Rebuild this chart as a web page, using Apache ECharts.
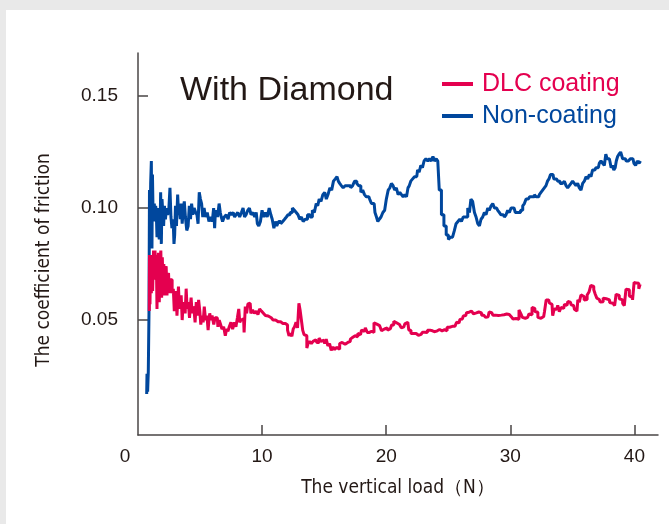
<!DOCTYPE html>
<html>
<head>
<meta charset="utf-8">
<title>Coefficient of friction vs vertical load</title>
<script src="https://cdn.jsdelivr.net/npm/echarts@6/dist/echarts.min.js"></script>
<style>
  html, body { margin: 0; padding: 0; background: #e9e9e9; }
  #panel { position: absolute; left: 6px; top: 10px; width: 663px; height: 514px; background: #ffffff; }
</style>
</head>
<body>
<div id="panel"></div>
<script>
// Friction traces: [vertical load (N), coefficient of friction]
const nonCoating = [
  [0.70,0.0170],[0.75,0.0260],[0.80,0.0180],[0.86,0.0270],
  [0.91,0.0530],[0.94,0.1080],[0.99,0.0830],[1.05,0.1110],
  [1.10,0.1210],[1.15,0.0820],[1.18,0.1150],
  [1.23,0.1010],[1.29,0.0950],[1.34,0.1020],
  [1.40,0.0940],[1.45,0.1010],
  [1.50,0.0980],[1.56,0.0870],[1.61,0.1000],
  [1.69,0.0890],[1.74,0.0860],[1.80,0.0890],
  [1.85,0.1070],[1.91,0.0840],[1.96,0.1040],
  [2.04,0.0980],[2.09,0.0920],
  [2.17,0.1010],[2.25,0.0950],[2.33,0.1000],
  [2.44,0.0970],[2.52,0.0990],
  [2.63,0.1090],[2.68,0.0960],
  [2.79,0.0910],[2.87,0.0950],
  [2.93,0.0840],[2.98,0.0880],
  [3.06,0.1010],[3.14,0.0920],
  [3.25,0.1060],[3.30,0.0970],
  [3.38,0.1000],[3.44,0.0950],
  [3.52,0.1020],[3.60,0.0930],[3.68,0.0990],
  [3.78,0.1030],[3.86,0.0960],
  [4.00,0.0900],[4.08,0.0920],
  [4.19,0.1010],[4.27,0.0950],
  [4.37,0.1020],[4.46,0.0970],
  [4.59,0.1000],[4.70,0.0980],
  [4.80,0.0970],[4.88,0.0930],
  [4.99,0.1070],[5.07,0.1040],
  [5.18,0.1020],[5.26,0.0960],
  [5.39,0.1000],[5.50,0.0960],
  [5.66,0.0980],[5.77,0.0940],
  [5.93,0.0960],[6.04,0.0940],
  [6.15,0.1000],[6.20,0.0910],[6.25,0.0970],
  [6.36,0.0990],[6.47,0.0960],
  [6.60,0.1020],[6.66,0.0980],
  [6.76,0.0960],[6.87,0.0940],
  [7.03,0.0960],[7.19,0.0970],[7.33,0.0950],
  [7.43,0.0980],[7.60,0.0970],[7.73,0.0980],
  [7.84,0.0960],[7.97,0.0970],
  [8.11,0.0980],[8.27,0.0960],[8.40,0.0980],
  [8.53,0.1000],[8.64,0.0960],
  [8.78,0.0970],[8.91,0.0990],
  [9.04,0.1000],[9.18,0.0970],
  [9.34,0.0980],[9.47,0.0960],
  [9.58,0.0980],[9.66,0.0930],
  [9.80,0.0920],[9.93,0.0940],
  [10.06,0.0990],[10.20,0.0960],
  [10.33,0.0980],[10.49,0.0960],
  [10.65,0.1000],[10.76,0.0970],
  [10.87,0.0950],[11.03,0.0910],[11.11,0.0940],
  [11.25,0.0920],[11.41,0.0940],
  [11.59,0.0930],[11.73,0.0940],
  [11.89,0.0950],[12.02,0.0960],
  [12.16,0.0970],[12.35,0.0980],
  [12.53,0.1000],[12.67,0.0990],
  [12.83,0.0980],[12.96,0.0970],
  [13.10,0.0950],[13.23,0.0960],
  [13.39,0.0940],[13.55,0.0950],
  [13.77,0.0970],[13.96,0.0960],
  [14.14,0.0990],[14.28,0.0980],
  [14.44,0.1020],[14.52,0.1010],
  [14.68,0.1040],[14.81,0.1030],
  [14.98,0.1060],[15.11,0.1070],
  [15.24,0.1040],[15.38,0.1060],
  [15.54,0.1090],[15.67,0.1080],
  [15.83,0.1120],[15.97,0.1130],
  [16.10,0.1140],[16.18,0.1120],
  [16.32,0.1110],[16.45,0.1100],
  [16.61,0.1090],[16.77,0.1100],
  [17.04,0.1100],[17.23,0.1090],
  [17.36,0.1100],[17.55,0.1120],
  [17.71,0.1110],[17.87,0.1100],
  [18.04,0.1070],[18.17,0.1080],
  [18.33,0.1060],[18.46,0.1050],
  [18.60,0.1050],[18.73,0.1040],
  [18.89,0.1020],[19.03,0.1020],
  [19.16,0.0980],[19.27,0.0960],
  [19.38,0.0940],[19.51,0.0950],
  [19.65,0.0960],[19.81,0.0980],
  [19.94,0.0990],[20.08,0.1040],
  [20.24,0.1080],[20.34,0.1090],
  [20.50,0.1110],[20.61,0.1100],
  [20.75,0.1080],[20.88,0.1090],
  [21.04,0.1060],[21.15,0.1070],
  [21.31,0.1060],[21.42,0.1050],
  [21.58,0.1060],[21.69,0.1050],
  [21.82,0.1090],[21.90,0.1100],
  [22.06,0.1120],[22.20,0.1130],
  [22.36,0.1140],[22.46,0.1140],
  [22.60,0.1170],[22.71,0.1160],
  [22.87,0.1190],[22.97,0.1180],
  [23.13,0.1210],[23.27,0.1220],
  [23.43,0.1210],[23.56,0.1220],
  [23.70,0.1210],[23.83,0.1230],
  [23.97,0.1210],[24.10,0.1220],
  [24.21,0.1210],
  [24.34,0.1080],[24.56,0.0970],[24.74,0.0920],
  [24.93,0.0880],[25.09,0.0860],[25.25,0.0870],
  [25.44,0.0870],[25.55,0.0900],
  [25.71,0.0930],[25.85,0.0940],
  [26.01,0.0950],[26.11,0.0940],
  [26.30,0.0960],[26.49,0.0960],
  [26.65,0.1000],[26.76,0.0980],
  [26.89,0.1040],[27.03,0.1030],
  [27.19,0.0980],[27.29,0.0960],
  [27.46,0.0930],[27.56,0.0920],
  [27.72,0.0950],[27.83,0.0960],
  [27.99,0.0980],[28.10,0.0970],
  [28.26,0.1000],[28.37,0.0990],
  [28.53,0.1010],[28.64,0.1020],
  [28.80,0.1000],[28.90,0.1000],
  [29.07,0.0990],[29.17,0.0980],
  [29.33,0.0970],[29.44,0.0970],
  [29.60,0.0960],[29.71,0.0970],
  [29.87,0.0990],[29.98,0.0980],
  [30.14,0.1000],[30.30,0.1000],
  [30.51,0.0980],[30.73,0.0980],[30.92,0.0990],
  [31.08,0.1010],[31.19,0.1020],
  [31.35,0.1040],[31.45,0.1040],
  [31.67,0.1050],[31.86,0.1050],
  [32.02,0.1060],[32.13,0.1050],
  [32.29,0.1050],[32.39,0.1060],
  [32.55,0.1070],[32.66,0.1080],
  [32.82,0.1090],[32.93,0.1100],
  [33.06,0.1120],[33.17,0.1130],
  [33.31,0.1150],[33.44,0.1150],
  [33.57,0.1130],[33.71,0.1130],
  [33.95,0.1120],[34.08,0.1110],
  [34.30,0.1110],[34.41,0.1120],
  [34.57,0.1100],[34.67,0.1090],
  [34.84,0.1100],[34.94,0.1110],
  [35.10,0.1120],[35.21,0.1110],
  [35.37,0.1100],[35.48,0.1110],
  [35.64,0.1090],[35.75,0.1080],
  [35.91,0.1110],[36.02,0.1120],
  [36.18,0.1140],[36.29,0.1130],
  [36.45,0.1150],[36.55,0.1140],
  [36.71,0.1170],[36.82,0.1170],
  [36.98,0.1180],[37.09,0.1180],
  [37.25,0.1200],[37.36,0.1210],
  [37.52,0.1200],[37.63,0.1190],
  [37.76,0.1240],[37.84,0.1220],
  [37.98,0.1220],[38.06,0.1210],
  [38.19,0.1180],[38.27,0.1190],
  [38.41,0.1170],[38.49,0.1180],
  [38.59,0.1210],[38.70,0.1230],
  [38.81,0.1240],[38.97,0.1250],
  [39.13,0.1220],[39.26,0.1220],
  [39.43,0.1210],[39.59,0.1210],
  [39.75,0.1220],[39.88,0.1220],
  [40.04,0.1200],[40.15,0.1190],
  [40.31,0.1210],[40.45,0.1200],[40.53,0.1210]
];

const dlcCoating = [
  [0.91,0.0540],[0.94,0.0790],[0.99,0.0570],[1.05,0.0790],
  [1.10,0.0620],[1.15,0.0790],[1.21,0.0630],
  [1.29,0.0810],[1.34,0.0680],[1.40,0.0810],[1.45,0.0700],
  [1.50,0.0790],[1.56,0.0550],[1.61,0.0750],
  [1.69,0.0800],[1.74,0.0580],[1.80,0.0760],
  [1.88,0.0810],[1.93,0.0600],[1.99,0.0780],[2.04,0.0650],
  [2.12,0.0750],[2.17,0.0610],[2.23,0.0730],
  [2.31,0.0740],[2.36,0.0610],[2.42,0.0700],
  [2.50,0.0710],[2.55,0.0620],[2.60,0.0680],
  [2.71,0.0680],[2.79,0.0620],
  [2.90,0.0640],[2.95,0.0540],[3.03,0.0600],
  [3.11,0.0630],[3.17,0.0520],[3.22,0.0580],
  [3.30,0.0650],[3.38,0.0550],[3.44,0.0600],
  [3.52,0.0610],[3.60,0.0500],[3.65,0.0560],
  [3.76,0.0580],[3.84,0.0530],
  [3.92,0.0640],[4.00,0.0550],
  [4.11,0.0580],[4.19,0.0510],[4.24,0.0560],
  [4.32,0.0600],[4.40,0.0530],[4.46,0.0560],
  [4.56,0.0550],[4.64,0.0490],
  [4.75,0.0580],[4.83,0.0520],[4.94,0.0590],
  [5.02,0.0540],[5.10,0.0480],
  [5.21,0.0520],[5.29,0.0490],
  [5.39,0.0560],[5.50,0.0500],
  [5.61,0.0520],[5.69,0.0455],[5.74,0.0500],
  [5.82,0.0530],[5.90,0.0500],
  [6.04,0.0520],[6.17,0.0480],[6.25,0.0510],
  [6.39,0.0510],[6.49,0.0470],[6.60,0.0500],
  [6.71,0.0480],[6.82,0.0460],
  [6.98,0.0470],[7.09,0.0430],[7.19,0.0460],
  [7.30,0.0450],[7.41,0.0470],
  [7.57,0.0490],[7.68,0.0460],
  [7.84,0.0490],[7.94,0.0470],
  [8.08,0.0510],[8.16,0.0550],[8.24,0.0490],
  [8.35,0.0500],
  [8.51,0.0505],[8.59,0.0445],
  [8.70,0.0560],[8.80,0.0530],[8.91,0.0572],
  [9.04,0.0575],[9.15,0.0530],
  [9.31,0.0545],[9.45,0.0530],
  [9.61,0.0540],[9.72,0.0525],
  [9.88,0.0550],[10.01,0.0540],
  [10.20,0.0530],[10.33,0.0520],
  [10.49,0.0518],[10.65,0.0510],
  [10.82,0.0505],[10.95,0.0500],
  [11.08,0.0500],[11.22,0.0492],
  [11.41,0.0492],[11.57,0.0485],
  [11.78,0.0485],[11.97,0.0478],
  [12.13,0.0455],[12.21,0.0430],
  [12.35,0.0440],[12.45,0.0428],
  [12.56,0.0460],[12.67,0.0470],
  [12.80,0.0490],[12.91,0.0465],
  [13.02,0.0575],[13.10,0.0545],
  [13.23,0.0500],[13.31,0.0455],
  [13.45,0.0435],[13.55,0.0430],
  [13.66,0.0375],[13.74,0.0395],
  [13.90,0.0405],[14.04,0.0395],[14.17,0.0405],
  [14.33,0.0412],[14.49,0.0400],
  [14.68,0.0420],[14.79,0.0405],
  [14.98,0.0410],[15.11,0.0395],[15.22,0.0415],
  [15.38,0.0385],[15.49,0.0395],
  [15.65,0.0365],[15.78,0.0380],[15.91,0.0368],
  [16.08,0.0378],[16.18,0.0370],
  [16.32,0.0395],[16.45,0.0400],
  [16.61,0.0392],[16.77,0.0400],
  [17.04,0.0405],[17.18,0.0415],
  [17.31,0.0423],[17.50,0.0430],
  [17.63,0.0425],[17.79,0.0440],
  [17.93,0.0435],[18.09,0.0455],
  [18.25,0.0450],[18.38,0.0465],
  [18.57,0.0445],[18.73,0.0450],
  [18.92,0.0445],[19.11,0.0488],
  [19.24,0.0482],[19.40,0.0475],
  [19.54,0.0468],[19.70,0.0452],
  [19.86,0.0460],[20.02,0.0465],
  [20.18,0.0455],[20.34,0.0462],
  [20.53,0.0478],[20.69,0.0495],
  [20.83,0.0488],[20.99,0.0480],
  [21.15,0.0487],[21.28,0.0465],
  [21.42,0.0470],[21.58,0.0483],
  [21.74,0.0490],[21.90,0.0455],
  [22.09,0.0440],[22.25,0.0435],
  [22.41,0.0440],[22.60,0.0432],
  [22.81,0.0436],[23.03,0.0446],
  [23.21,0.0444],[23.43,0.0455],
  [23.62,0.0452],[23.83,0.0448],
  [24.02,0.0452],[24.21,0.0458],
  [24.40,0.0452],[24.61,0.0457],
  [24.80,0.0452],[25.01,0.0468],
  [25.20,0.0472],
  [25.47,0.0472],[25.60,0.0465],
  [25.74,0.0490],[25.87,0.0488],
  [26.01,0.0503],[26.14,0.0505],
  [26.27,0.0518],[26.41,0.0520],
  [26.54,0.0533],[26.68,0.0535],
  [26.81,0.0540],[26.95,0.0535],
  [27.11,0.0528],[27.27,0.0532],
  [27.46,0.0536],[27.59,0.0532],
  [27.78,0.0522],[27.94,0.0524],
  [28.07,0.0512],[28.21,0.0515],
  [28.37,0.0536],[28.50,0.0533],
  [28.69,0.0522],[28.90,0.0520],
  [29.17,0.0522],[29.39,0.0524],
  [29.60,0.0527],[29.82,0.0525],
  [30.01,0.0528],[30.14,0.0515],
  [30.27,0.0505],[30.46,0.0507],
  [30.62,0.0504],[30.78,0.0545],
  [30.89,0.0530],[31.05,0.0512],
  [31.21,0.0508],[31.40,0.0512],
  [31.59,0.0527],[31.70,0.0524],
  [31.80,0.0556],[31.91,0.0552],
  [32.05,0.0538],[32.15,0.0535],
  [32.29,0.0512],[32.39,0.0508],
  [32.55,0.0515],[32.69,0.0516],
  [32.82,0.0538],[32.96,0.0590],
  [33.09,0.0590],[33.22,0.0576],
  [33.36,0.0570],[33.47,0.0520],
  [33.60,0.0550],[33.74,0.0548],
  [33.90,0.0565],[34.00,0.0538],
  [34.17,0.0556],[34.30,0.0552],
  [34.43,0.0570],[34.57,0.0566],
  [34.70,0.0583],[34.84,0.0580],
  [34.97,0.0568],[35.10,0.0565],
  [35.24,0.0548],[35.37,0.0540],
  [35.51,0.0590],[35.61,0.0580],
  [35.77,0.0612],[35.88,0.0605],
  [36.02,0.0590],[36.12,0.0592],
  [36.26,0.0612],[36.42,0.0625],
  [36.55,0.0655],[36.66,0.0650],
  [36.79,0.0635],[36.90,0.0615],
  [37.04,0.0598],[37.17,0.0592],
  [37.31,0.0580],[37.41,0.0582],
  [37.55,0.0598],[37.65,0.0595],
  [37.81,0.0588],[37.92,0.0590],
  [38.08,0.0578],[38.19,0.0575],
  [38.35,0.0573],[38.46,0.0565],
  [38.59,0.0615],[38.70,0.0610],
  [38.86,0.0595],[38.97,0.0590],
  [39.13,0.0575],[39.24,0.0565],
  [39.40,0.0638],[39.51,0.0635],
  [39.67,0.0608],[39.77,0.0600],
  [39.93,0.0590],[40.02,0.0668],
  [40.15,0.0665],[40.28,0.0664],
  [40.42,0.0640],[40.50,0.0660]
];

const seriesNames = ['DLC coating', 'Non-coating'];
const seriesColors = ['#e4004f', '#00479d'];
const xTickValues = [10, 20, 30, 40];
const xLabelValues = [0, 10, 20, 30, 40];
const yTickValues = [0.05, 0.10, 0.15];

const inkColor = '#231815';
const axisColor = '#4a4646';
const sansFont = "'Liberation Sans', Arial, sans-serif";
const narrowFont = "'Liberation Sans Narrow', 'DejaVu Sans Condensed', sans-serif";

const chart = echarts.init(document.getElementById('panel'), null, { renderer: 'canvas' });

chart.setOption({
  animation: false,
  backgroundColor: 'transparent',
  title: {
    text: 'With Diamond',
    left: 169,
    top: 59,
    textStyle: { fontFamily: sansFont, fontSize: 34, fontWeight: 'normal', color: inkColor }
  },
  legend: {
    orient: 'vertical',
    left: 431,
    top: 56,
    icon: 'rect',
    itemWidth: 31,
    itemHeight: 4,
    itemGap: 6,
    selectedMode: false,
    data: seriesNames.map((n, i) => ({ name: n, textStyle: { color: seriesColors[i] } })),
    textStyle: { fontFamily: sansFont, fontSize: 25, lineHeight: 26, padding: [0, 0, 0, 4] }
  },
  grid: { left: 132, right: 11, top: 43, bottom: 89 },
  xAxis: {
    type: 'value',
    min: 0,
    max: 41.9,
    splitLine: { show: false },
    axisLine: { onZero: false, lineStyle: { color: axisColor, width: 1.5 } },
    axisTick: { inside: true, length: 10, customValues: xTickValues, lineStyle: { color: axisColor, width: 1.5 } },
    axisLabel: {
      customValues: xLabelValues,
      margin: 12,
      color: inkColor,
      fontFamily: sansFont,
      fontSize: 19,
      formatter: v => (v === 0 ? '{origin|0}' : String(v)),
      rich: { origin: { padding: [0, 26, 0, 0], color: inkColor, fontFamily: sansFont, fontSize: 19 } }
    },
    name: 'The vertical load（N）',
    nameLocation: 'middle',
    nameGap: 44,
    nameTextStyle: { fontFamily: narrowFont, fontSize: 19, color: inkColor }
  },
  yAxis: {
    type: 'value',
    min: -0.0013,
    max: 0.1692,
    splitLine: { show: false },
    axisLine: { show: true, lineStyle: { color: axisColor, width: 1.5 } },
    axisTick: { show: true, inside: true, length: 10, customValues: yTickValues, lineStyle: { color: axisColor, width: 1.5 } },
    axisLabel: {
      customValues: yTickValues,
      margin: 20,
      color: inkColor,
      fontFamily: sansFont,
      fontSize: 19,
      formatter: v => v.toFixed(2)
    },
    name: 'The coefficient of friction',
    nameLocation: 'middle',
    nameRotate: 90,
    nameGap: 84,
    nameTextStyle: { fontFamily: narrowFont, fontSize: 19, color: inkColor, padding: [0, 32, 0, 0] }
  },
  series: [
    {
      name: seriesNames[1],
      type: 'line',
      data: nonCoating,
      step: 'middle',
      showSymbol: false,
      z: 2,
      lineStyle: { width: 3, color: seriesColors[1] },
      itemStyle: { color: seriesColors[1] }
    },
    {
      name: seriesNames[0],
      type: 'line',
      data: dlcCoating,
      step: 'middle',
      showSymbol: false,
      z: 3,
      lineStyle: { width: 3, color: seriesColors[0] },
      itemStyle: { color: seriesColors[0] }
    }
  ]
});
</script>
</body>
</html>
